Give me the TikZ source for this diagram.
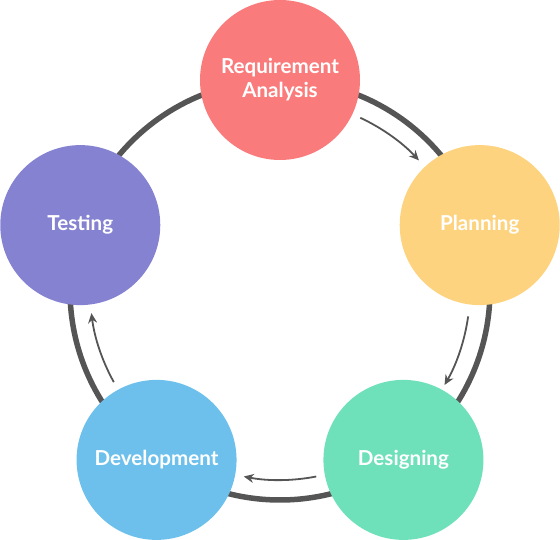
\documentclass[tikz,border=0pt]{standalone}
\usepackage{fontspec}
\setmainfont{Lato}
\usepackage{tikz}
\usetikzlibrary{arrows.meta}
\definecolor{ringgray}{RGB}{85,85,85}
\definecolor{reqred}{RGB}{250,123,123}
\definecolor{planyellow}{RGB}{253,211,127}
\definecolor{desgreen}{RGB}{110,224,186}
\definecolor{devblue}{RGB}{108,192,235}
\definecolor{testpurple}{RGB}{134,130,210}

\begin{document}
\begin{tikzpicture}[x=1pt,y=1pt,
  phase/.style={circle, minimum size=160pt, inner sep=0pt, text=white,
    align=center, font=\fontsize{20.6}{24}\selectfont\bfseries},
  flow/.style={draw=ringgray, line width=1.8pt, -{Stealth[length=10pt,width=9pt]}}]
  \def\R{210}
  \def\r{190}
  \useasboundingbox (-280,-250) rectangle (280,290);
  \coordinate (hub) at (0,0);
  % ring behind the phases
  \draw[ringgray, line width=5.5pt] (hub) circle[radius=\R];
  % phases
  \node[phase, fill=reqred] (req) at (90:\R) {Requirement\\Analysis};
  \node[phase, fill=planyellow] (plan) at (18:\R) {Planning};
  \node[phase, fill=desgreen] (des) at (-54:\R) {Designing};
  \node[phase, fill=devblue] (dev) at (-126:\R) {Development};
  \node[phase, fill=testpurple] (test) at (162:\R) {Testing};
  % arrows between the phases
  \draw[flow] ([shift={(65:\r)}]hub) arc[start angle=65, end angle=43, radius=\r];
  \draw[flow] ([shift={(-8:\r)}]hub) arc[start angle=-8, end angle=-30, radius=\r];
  \draw[flow] ([shift={(-79:\r)}]hub) arc[start angle=-79, end angle=-101, radius=\r];
  \draw[flow] ([shift={(-151:\r)}]hub) arc[start angle=-151, end angle=-173, radius=\r];
\end{tikzpicture}
\end{document}
